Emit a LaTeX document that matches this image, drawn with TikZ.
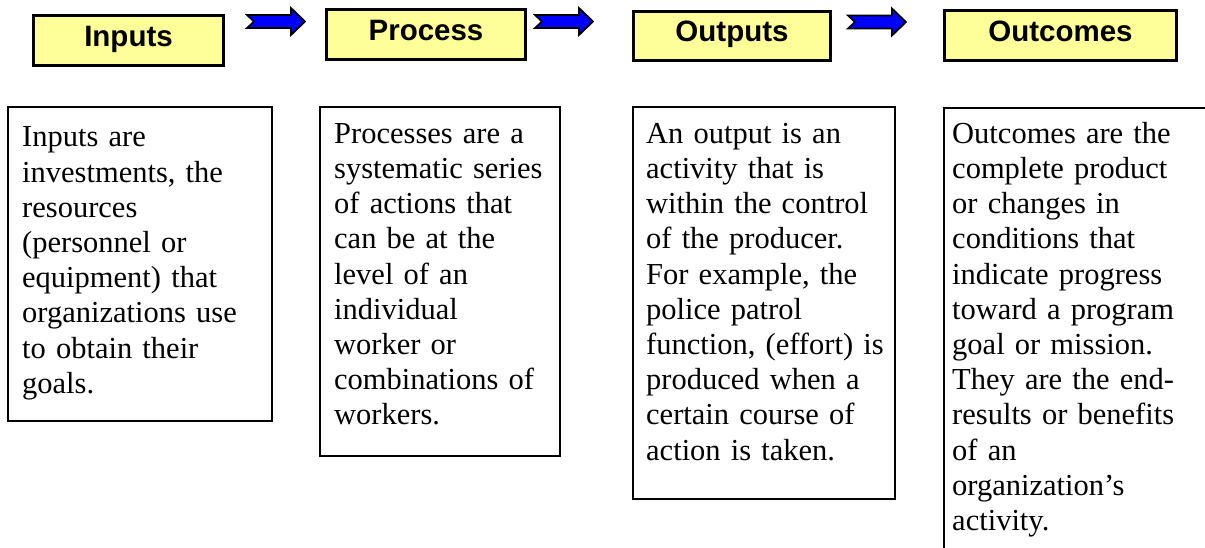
\documentclass[tikz,border=0pt]{standalone}
\usepackage{fontspec}
\setmainfont{Liberation Serif}
\newfontfamily\hdrface{Liberation Sans}
\definecolor{hdryellow}{HTML}{FFFF99}
\definecolor{arrowblue}{HTML}{0000FF}
\tikzset{
  hdr/.style={draw=black, line width=3pt, fill=hdryellow, inner sep=0pt,
    font=\hdrface\bfseries\fontsize{29.5}{34}\selectfont,
    text height=21pt, text depth=9pt},
  descbox/.style={draw=black, line width=2pt, inner sep=0pt},
  bodytext/.style={anchor=north west, inner sep=0pt, text width=255pt, align=left,
    font=\fontsize{30.5}{35.2}\selectfont},
  blockarrow/.style={draw=black, line width=1.7pt, fill=arrowblue, line join=miter}
}
\newcommand{\blockarrowat}[1]{%
  \draw[blockarrow] (#1) +(0,-6.5) -- +(44,-6.5) -- +(44,-13.5) -- +(58,0)
    -- +(44,13.5) -- +(44,6.5) -- +(0,6.5) -- +(7,0) -- cycle;}
\begin{document}
\begin{tikzpicture}[x=1pt, y=-1pt]
  \useasboundingbox (0,0) rectangle (1205,548);
  \clip (0,0) rectangle (1205,548);

  % header boxes
  \node[hdr, minimum width=190pt, minimum height=50pt] (hin)  at (128.5,40.5) {Inputs};
  \node[hdr, minimum width=199pt, minimum height=50pt] (hpr)  at (426,34.5)   {Process};
  \node[hdr, minimum width=197pt, minimum height=49pt] (hout) at (732,36)     {Outputs};
  \node[hdr, minimum width=232pt, minimum height=50pt] (hoc)  at (1060.5,35.5) {Outcomes};

  % block arrows between the headers
  \coordinate (a1) at (247,21.5);
  \coordinate (a2) at (535,21.5);
  \coordinate (a3) at (848,22);
  \blockarrowat{a1}
  \blockarrowat{a2}
  \blockarrowat{a3}

  % description boxes
  \node[descbox, minimum width=264pt, minimum height=314pt] (din)  at (140,264) {};
  \node[descbox, minimum width=240pt, minimum height=349pt] (dpr)  at (440,281.5) {};
  \node[descbox, minimum width=262pt, minimum height=392pt] (dout) at (764,303) {};
  \node[descbox, minimum width=280pt, minimum height=480pt] (doc)  at (1084,348) {};

  % description texts
  \node[bodytext] (tin) at (22,122) {\strut Inputs are\\
    investments, the\\ resources\\ (personnel or\\ equipment) that\\
    organizations use\\ to obtain their\\ goals.};
  \node[bodytext] (tpr) at (334,118.5) {\strut Processes are a\\
    systematic series\\ of actions that\\ can be at the\\ level of an\\
    individual\\ worker or\\ combinations of\\ workers.};
  \node[bodytext] (tout) at (646,118.5) {\strut An output is an\\
    activity that is\\ within the control\\ of the producer.\\
    For example, the\\ police patrol\\ function, (effort) is\\
    produced when a\\ certain course of\\ action is taken.};
  \node[bodytext] (toc) at (952,118.5) {\strut Outcomes are the\\
    complete product\\ or changes in\\ conditions that\\ indicate progress\\
    toward a program\\ goal or mission.\\ They are the end-\\
    results or benefits\\ of an\\ organization’s\\ activity.};
\end{tikzpicture}
\end{document}
